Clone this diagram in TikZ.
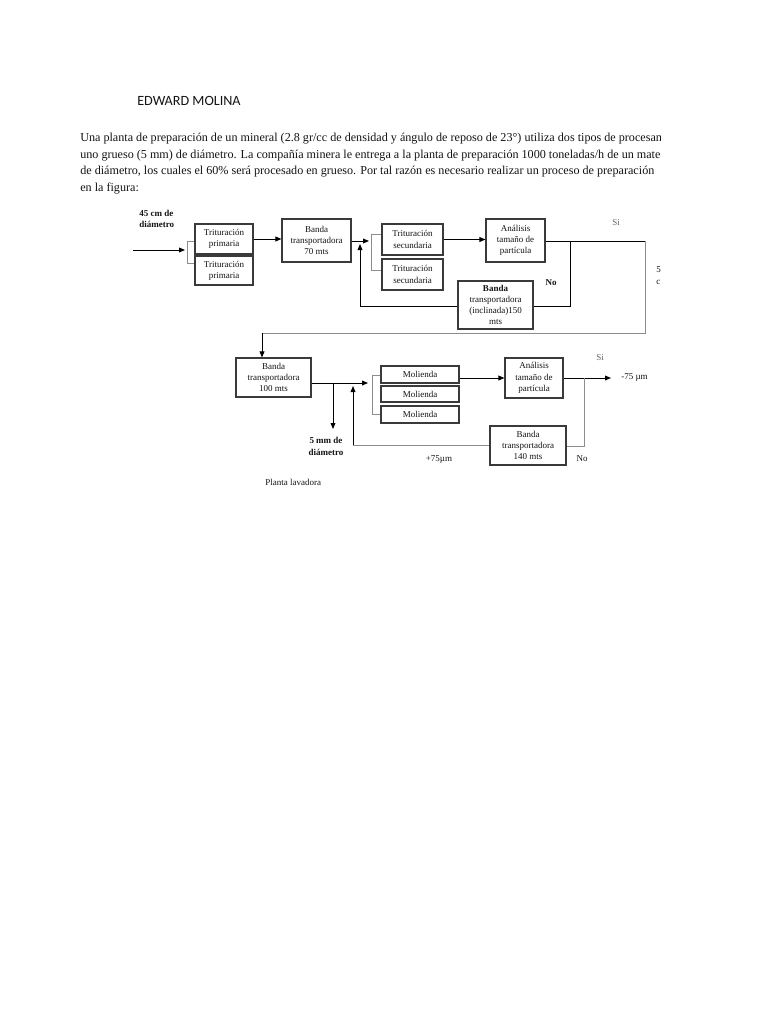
\documentclass[tikz,border=0pt]{standalone}
\usepackage{fontspec}
\setmainfont{Liberation Serif}
\newfontfamily\titlefont{Carlito}
\usetikzlibrary{arrows.meta}
\definecolor{boxc}{HTML}{3A3A3A}
\definecolor{gl}{HTML}{8C8C8C}
\definecolor{txt}{HTML}{141414}
\newcommand{\bx}[6]{\node[box, minimum width=#4*0.75pt, minimum height=#5*0.75pt] (#1) at (#2,#3) {#6};}
\begin{document}
\begin{tikzpicture}[x=0.75pt,y=-0.75pt,
  box/.style={draw=boxc, line width=0.8pt, fill=white, inner sep=0pt, align=center, text=txt, font=\fontsize{6.75}{8.4}\selectfont},
  lbl/.style={inner sep=0pt, align=center, text=txt, font=\fontsize{6.75}{8.6}\selectfont},
  arr/.style={-{Triangle[length=4.5pt,width=3.6pt]}, line width=0.75pt, draw=black},
  ln/.style={line width=0.75pt, draw=black},
  gln/.style={line width=0.75pt, draw=gl},
  para/.style={anchor=west, inner sep=0pt, text=txt, font=\fontsize{9.1}{10}\selectfont, text height=6.6pt, text depth=2pt}
]
\useasboundingbox (0,0) rectangle (768,1024);
\fill[white] (0,0) rectangle (768,1024);

% heading and paragraph
\node[anchor=west, inner sep=0pt, text=txt, font=\titlefont\fontsize{10.6}{12}\selectfont] (title) at (137,101) {EDWARD MOLINA};
\begin{scope}
\clip (0,0) rectangle (660,1024);
\node[para] (t1) at (80,138.5) {Una planta de preparación de un mineral (2.8 gr/cc de densidad y ángulo de reposo de 23°) utiliza dos tipos de procesam};
\node[para] (t2) at (80,155) {uno grueso (5 mm) de diámetro. La compañía minera le entrega a la planta de preparación 1000 toneladas/h de un mate};
\node[para] (t3) at (80,171.5) {de diámetro, los cuales el 60\% será procesado en grueso. Por tal razón es necesario realizar un proceso de preparación};
\node[para] (t4) at (80,188) {en la figura:};
\node[lbl, anchor=west] (cut1) at (656,270) {5};
\node[lbl, anchor=west] (cut2) at (656,282) {c};
\end{scope}

% boxes
\bx{TP1}{224}{239}{58}{30}{Trituración\\primaria}
\bx{TP2}{224}{270.5}{58}{29}{Trituración\\primaria}
\bx{B70}{316.5}{240.5}{69}{43}{Banda\\transportadora\\70 mts}
\bx{TS1}{412.5}{239.5}{61}{31}{Trituración\\secundaria}
\bx{TS2}{412.5}{274.5}{61}{31}{Trituración\\secundaria}
\bx{A1}{515.5}{240.5}{59}{43}{Análisis\\tamaño de\\partícula}
\bx{BI}{495.5}{305}{75}{48}{\textbf{Banda}\\transportadora\\(inclinada)150\\mts}
\bx{B100}{273.5}{377.5}{75}{39}{Banda\\transportadora\\100 mts}
\bx{M1}{420}{374.5}{78}{17}{Molienda}
\bx{M2}{420}{394}{78}{16}{Molienda}
\bx{M3}{420}{414.5}{78}{17}{Molienda}
\bx{A2}{534}{378}{58}{40}{Análisis\\tamaño de\\partícula}
\bx{B140}{528}{445.5}{76}{39}{Banda\\transportadora\\140 mts}

% top row connectors
\coordinate (in) at (133,250);
\coordinate (inE) at (185,250);
\draw[arr] (in) -- (inE);
\coordinate (k1a) at (187,241);
\coordinate (k1b) at (187,263);
\draw[gln] (k1a -| TP1.west) -- (k1a) -- (k1b) -- (k1b -| TP2.west);
\draw[arr] (TP1.east) -- (TP1.east -| B70.west);
\coordinate (k2) at (369,241);
\draw[arr] (k2 -| B70.east) -- (k2);
\coordinate (k2a) at (371,234);
\coordinate (k2b) at (371,270);
\draw[gln] (k2a -| TS1.west) -- (k2a) -- (k2b) -- (k2b -| TS2.west);
\draw[arr] (TS1.east) -- (TS1.east -| A1.west);
\coordinate (j1) at (570,241);
\coordinate (c1) at (645,241);
\coordinate (c2) at (645,333);
\coordinate (c3) at (262,333);
\draw[ln] (j1 -| A1.east) -- (c1);
\draw[gln] (c1) -- (c2) -- (c3);
\draw[arr] (c3) -- (c3 |- B100.north);
\coordinate (f1) at (570,306);
\coordinate (f2) at (360,306);
\coordinate (f3) at (360,244);
\draw[ln] (j1) -- (f1) -- (f1 -| BI.east);
\draw[ln] (BI.west |- f2) -- (f2);
\draw[arr] (f2) -- (f3);

% bottom row connectors
\coordinate (k3) at (368,383);
\draw[arr] (k3 -| B100.east) -- (k3);
\coordinate (d5) at (333,383);
\coordinate (d5b) at (333,429);
\draw[arr] (d5) -- (d5b);
\coordinate (k3a) at (372,375);
\coordinate (k3b) at (372,414);
\draw[gln] (k3a -| M1.west) -- (k3a) -- (k3b) -- (k3b -| M3.west);
\coordinate (m1o) at (459,378);
\draw[arr] (m1o -| M1.east) -- (m1o -| A2.west);
\coordinate (outE) at (611,378);
\draw[arr] (A2.east) -- (outE);
\coordinate (j2) at (584,378);
\coordinate (j2b) at (584,446);
\draw[gln] (j2) -- (j2b) -- (j2b -| B140.east);
\coordinate (r1) at (353,445);
\coordinate (r2) at (353,386);
\draw[gln] (r1 -| B140.west) -- (r1);
\draw[arr] (r1) -- (r2);

% labels
\node[lbl, anchor=west, align=left] (l45) at (139,219) {\textbf{45 cm de}\\\textbf{diámetro}};
\node[lbl, text=gl!70!black] (si1) at (616,223) {Si};
\node[lbl] (no1) at (551,283) {\textbf{No}};
\node[lbl, text=gl!70!black] (si2) at (600,358) {Si};
\node[lbl, anchor=west] (m75) at (621,378) {-75 µm};
\node[lbl] (l5) at (326,446.5) {\textbf{5 mm de}\\\textbf{diámetro}};
\node[lbl] (p75) at (439,460) {+75µm};
\node[lbl] (no2) at (582,459) {No};
\node[lbl, anchor=west] (pl) at (265,482) {Planta lavadora};
\end{tikzpicture}
\end{document}
